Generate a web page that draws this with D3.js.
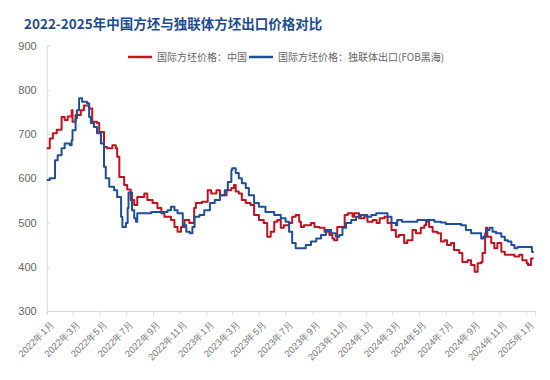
<!DOCTYPE html>
<html><head><meta charset="utf-8">
<script src="https://cdn.jsdelivr.net/npm/d3@7"></script>
<style>
html,body{margin:0;padding:0;background:#fff;}
svg{display:block;font-family:"Noto Sans CJK SC","Noto Sans",sans-serif;}
</style></head>
<body><svg id="chart" width="550" height="380"></svg>
<script>
const title = "2022-2025年中国方坯与独联体方坯出口价格对比";
const seriesNames = ["国际方坯价格：中国", "国际方坯价格：独联体出口(FOB黑海)"];
const chinaDates = ["2022-01-01","2022-01-08","2022-01-15","2022-01-24","2022-02-04","2022-02-11","2022-02-18","2022-02-27","2022-03-01","2022-03-08","2022-03-20","2022-03-27","2022-04-08","2022-04-15","2022-04-26","2022-05-01","2022-05-12","2022-05-19","2022-05-31","2022-06-08","2022-06-11","2022-06-16","2022-06-27","2022-07-04","2022-07-12","2022-07-20","2022-07-27","2022-08-12","2022-08-19","2022-08-31","2022-09-11","2022-09-20","2022-09-27","2022-10-12","2022-10-20","2022-10-27","2022-11-04","2022-11-12","2022-11-23","2022-12-04","2022-12-08","2022-12-22","2023-01-04","2023-01-12","2023-01-24","2023-02-01","2023-02-16","2023-02-27","2023-03-05","2023-03-09","2023-03-16","2023-03-23","2023-04-01","2023-04-12","2023-04-20","2023-05-01","2023-05-12","2023-05-20","2023-05-28","2023-06-05","2023-06-12","2023-06-20","2023-06-27","2023-07-09","2023-07-16","2023-07-24","2023-08-01","2023-08-05","2023-08-12","2023-08-28","2023-09-05","2023-09-16","2023-09-28","2023-10-09","2023-10-16","2023-10-20","2023-10-27","2023-11-13","2023-11-20","2023-12-01","2023-12-05","2023-12-16","2023-12-28","2024-01-04","2024-01-16","2024-01-25","2024-02-01","2024-02-12","2024-02-19","2024-02-28","2024-03-09","2024-03-16","2024-03-28","2024-04-04","2024-04-16","2024-04-24","2024-05-05","2024-05-13","2024-05-17","2024-05-24","2024-06-01","2024-06-12","2024-06-20","2024-06-28","2024-07-04","2024-07-13","2024-07-20","2024-08-01","2024-08-08","2024-08-20","2024-08-28","2024-09-05","2024-09-12","2024-09-20","2024-09-23","2024-09-29","2024-10-01","2024-10-04","2024-10-13","2024-10-20","2024-10-27","2024-11-05","2024-11-13","2024-11-25","2024-12-05","2024-12-16","2024-12-23","2025-01-02","2025-01-05","2025-01-12","2025-01-16"];
const chinaValues = [668,690,702,710,739,732,740,754,728,743,754,765,758,728,725,705,671,668,675,668,649,603,585,575,551,540,558,566,551,544,533,521,513,506,490,479,490,506,499,533,544,547,573,566,573,562,573,578,585,570,566,551,544,540,517,506,499,468,479,502,506,488,494,499,513,517,502,490,494,499,490,488,479,472,464,460,490,517,521,513,521,510,517,502,506,499,510,513,499,483,468,472,454,460,483,476,488,494,502,490,479,476,457,460,449,454,438,431,411,415,404,389,408,411,431,476,488,468,454,442,454,434,427,427,423,427,415,408,404,419,421];
const cisDates = ["2022-01-01","2022-01-08","2022-01-20","2022-01-26","2022-02-04","2022-02-11","2022-02-23","2022-02-27","2022-03-01","2022-03-08","2022-03-11","2022-03-16","2022-03-23","2022-04-03","2022-04-08","2022-04-12","2022-04-19","2022-04-26","2022-05-05","2022-05-12","2022-05-16","2022-05-24","2022-06-04","2022-06-11","2022-06-20","2022-06-23","2022-07-01","2022-07-05","2022-07-07","2022-07-15","2022-07-20","2022-07-24","2022-07-27","2022-08-28","2022-10-04","2022-10-12","2022-10-20","2022-10-27","2022-11-08","2022-11-16","2022-11-24","2022-11-30","2022-12-05","2022-12-16","2022-12-27","2023-01-09","2023-01-20","2023-02-01","2023-02-12","2023-02-19","2023-02-27","2023-03-01","2023-03-09","2023-03-16","2023-03-23","2023-04-01","2023-04-08","2023-04-20","2023-05-01","2023-05-16","2023-06-05","2023-06-20","2023-07-01","2023-07-09","2023-07-16","2023-07-24","2023-08-05","2023-08-16","2023-08-28","2023-09-09","2023-09-20","2023-10-01","2023-10-13","2023-10-24","2023-11-01","2023-11-08","2023-11-16","2023-11-28","2023-12-09","2023-12-20","2024-01-01","2024-01-13","2024-01-24","2024-02-12","2024-02-19","2024-02-28","2024-03-09","2024-03-12","2024-03-23","2024-04-27","2024-06-05","2024-06-20","2024-07-01","2024-08-05","2024-08-16","2024-08-28","2024-09-20","2024-09-25","2024-10-01","2024-10-09","2024-10-16","2024-10-24","2024-11-05","2024-11-13","2024-11-20","2024-11-28","2024-12-05","2024-12-12","2025-01-09","2025-01-14","2025-01-16"];
const cisValues = [596,600,641,652,668,679,675,686,709,736,754,781,773,770,739,725,716,702,679,626,600,581,573,558,513,490,499,533,568,528,510,502,521,524,528,536,528,521,494,479,476,490,513,517,528,544,551,562,573,592,619,623,612,600,589,578,562,544,536,524,517,510,502,479,454,442,442,449,457,464,472,483,476,468,472,488,499,506,513,517,513,517,521,521,513,499,494,506,502,506,502,500,497,494,483,476,464,468,483,488,479,476,468,460,457,449,442,445,445,434,431];
const yTicks = [300,400,500,600,700,800,900];
const xTickDates = ["2022-01-01","2022-03-01","2022-05-01","2022-07-01","2022-09-01","2022-11-01","2023-01-01","2023-03-01","2023-05-01","2023-07-01","2023-09-01","2023-11-01","2024-01-01","2024-03-01","2024-05-01","2024-07-01","2024-09-01","2024-11-01","2025-01-01"];
const xTickLabels = ["2022年1月","2022年3月","2022年5月","2022年7月","2022年9月","2022年11月","2023年1月","2023年3月","2023年5月","2023年7月","2023年9月","2023年11月","2024年1月","2024年3月","2024年5月","2024年7月","2024年9月","2024年11月","2025年1月"];
const colors = ["#c3121f", "#1f4f9c"];

(function () {
const svg = d3.select("#chart");
const parse = d3.timeParse("%Y-%m-%d");
const mLeft = 46.7, mRight = 535, mTop = 45.7, mBottom = 311;

const x = d3.scaleTime().domain([parse("2022-01-01"), parse("2025-01-21")]).range([mLeft, mRight]);
const y = d3.scaleLinear().domain([300, 900]).range([mBottom, mTop]);

svg.append("text").attr("x", 24).attr("y", 29)
  .attr("font-size", 13.5).attr("font-weight", "bold").attr("fill", "#1d4b8f")
  .text(title);

const yAxis = svg.append("g").attr("transform", `translate(${mLeft},0)`)
  .call(d3.axisLeft(y).tickValues(yTicks).tickSize(-3).tickPadding(10));
yAxis.select(".domain").attr("stroke", "#d9d9d9");
yAxis.selectAll(".tick line").attr("stroke", "#d9d9d9");
yAxis.selectAll(".tick text").attr("fill", "#666").attr("font-size", 11).attr("font-family", "Liberation Sans, Arial, sans-serif");

const xAxis = svg.append("g").attr("transform", `translate(0,${mBottom})`)
  .call(d3.axisBottom(x).tickValues(xTickDates.map(parse)).tickSize(4)
    .tickFormat((d, i) => xTickLabels[i]));
xAxis.select(".domain").attr("stroke", "#d9d9d9");
xAxis.selectAll(".tick line").attr("stroke", "#d9d9d9");
xAxis.selectAll(".tick text").attr("fill", "#777").attr("font-size", 9.5)
  .attr("text-anchor", "end").attr("dy", 0)
  .attr("transform", "translate(3,9) rotate(-45)");

const line = d3.line().x(d => x(d[0])).y(d => y(d[1])).curve(d3.curveStepAfter);
const chinaData = chinaDates.map((d, i) => [parse(d), chinaValues[i]]);
const cisData = cisDates.map((d, i) => [parse(d), cisValues[i]]);

svg.append("path").datum(chinaData).attr("d", line).attr("fill", "none")
  .attr("stroke", colors[0]).attr("stroke-width", 2).attr("stroke-linejoin", "round");
svg.append("path").datum(cisData).attr("d", line).attr("fill", "none")
  .attr("stroke", colors[1]).attr("stroke-width", 2).attr("stroke-linejoin", "round");

const legendItems = [{x: 128, name: seriesNames[0], c: colors[0]}, {x: 249, name: seriesNames[1], c: colors[1]}];
const lg = svg.append("g");
legendItems.forEach(it => {
  lg.append("line").attr("x1", it.x).attr("x2", it.x + 24).attr("y1", 57).attr("y2", 57)
    .attr("stroke", it.c).attr("stroke-width", 2.5);
  lg.append("text").attr("x", it.x + 29).attr("y", 61).attr("font-size", 10).attr("fill", "#666").text(it.name);
});
})();
</script></body></html>
